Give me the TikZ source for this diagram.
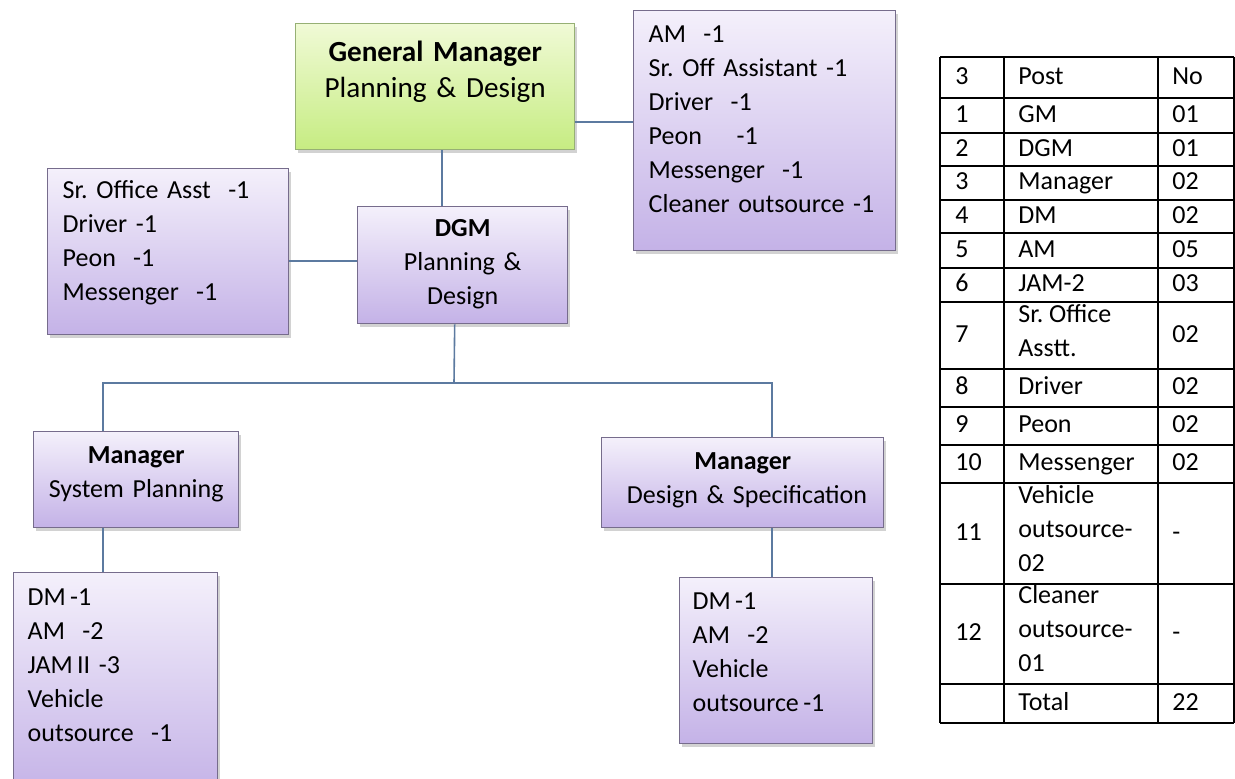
\documentclass[tikz,border=0pt]{standalone}
\usepackage{fontspec}
\setmainfont{Carlito}
\usetikzlibrary{shadows}

\definecolor{lilactop}{RGB}{244,240,251}
\definecolor{lilacbot}{RGB}{196,178,231}
\definecolor{lilacline}{RGB}{118,108,140}
\definecolor{limetop}{RGB}{240,250,214}
\definecolor{limebot}{RGB}{198,236,130}
\definecolor{limeline}{RGB}{150,176,116}
\definecolor{linkblue}{RGB}{92,122,160}

\tikzset{
  box/.style={draw=lilacline, line width=0.7pt, top color=lilactop, bottom color=lilacbot,
    drop shadow={shadow xshift=1.2pt, shadow yshift=-1.6pt, opacity=.35},
    anchor=north west, inner ysep=0pt, align=left,
    font=\fontsize{13}{17}\selectfont},
  gmbox/.style={box, draw=limeline, top color=limetop, bottom color=limebot,
    align=center, inner xsep=0pt, font=\fontsize{14.6}{18}\selectfont},
  link/.style={draw=linkblue, line width=0.8pt},
  cell/.style={anchor=west, inner sep=0pt, align=left,
    font=\fontsize{13}{17}\selectfont,
    execute at begin node=\strut, execute at end node=\strut},
  tabline/.style={line width=0.8pt},
}

\begin{document}
\frenchspacing
\begin{tikzpicture}[x=0.5pt,y=-0.5pt]
	\useasboundingbox (0,0) rectangle (1235,778);
	\fill[white] (0,0) rectangle (1235,778);

	% chart boxes
	\node[gmbox, text width=139.5pt, text height=19pt, text depth=44pt] (gm) at (295,23)
		{\textbf{General Manager}\\Planning \& Design};
	\node[box, inner xsep=7.5pt, text width=116pt, text height=16pt, text depth=104pt] (gmstaff) at (633,10)
		{AM\ \ -1\\Sr. Off Assistant\ -1\\Driver\ \ -1\\Peon\ \ \ \ -1\\Messenger\ \ -1\\Cleaner outsource -1};
	\node[box, inner xsep=7.5pt, text width=105.5pt, text height=15pt, text depth=68pt] (staff) at (47,168)
		{Sr. Office Asst\ \ -1\\Driver -1\\Peon\ \ -1\\Messenger\ \ -1};
	\node[box, align=center, inner xsep=0pt, text width=105pt, text height=15pt, text depth=43.5pt] (dgm) at (357,206)
		{\textbf{DGM}\\Planning \&\\Design};
	\node[box, align=center, inner xsep=0pt, text width=102.5pt, text height=16pt, text depth=32pt] (msp) at (33,431)
		{\textbf{Manager}\\System Planning};
	\node[box, align=center, inner xsep=0pt, text width=141pt, text height=16pt, text depth=29pt] (mds) at (601,437)
		{\textbf{Manager}\\\ Design \& Specification};
	\node[box, inner xsep=7pt, text width=88pt, text height=16.5pt, text depth=95pt] (spteam) at (13,572)
		{DM\,-1\\AM\ \ -2\\JAM\,II\ -3\\Vehicle\\outsource\ \ -1};
	\node[box, inner xsep=6.5pt, text width=83.5pt, text height=16pt, text depth=67pt] (dsteam) at (679,577)
		{DM\,-1\\AM\ \ -2\\Vehicle\\outsource\,-1};

	% connectors
	\coordinate (bus) at (454,383);
	\draw[link] ([xshift=3.25pt]gm.south) -- ([xshift=3.25pt]gm.south |- dgm.north);
	\draw[link] ([yshift=-17.5pt]gm.east) -- ([yshift=-17.5pt]gm.east -| gmstaff.west);
	\draw[link] ([yshift=-4.5pt]staff.east) -- ([yshift=-4.5pt]staff.east -| dgm.west);
	\draw[link] ([xshift=-4pt]dgm.south) -- (bus);
	\draw[link] ([xshift=-16.75pt]msp.north) |- (bus);
	\draw[link] ([xshift=14.5pt]mds.north) |- (bus);
	\draw[link] ([xshift=-16.75pt]msp.south) -- ([xshift=-16.75pt]msp.south |- spteam.north);
	\draw[link] ([xshift=14.5pt]mds.south) -- ([xshift=14.5pt]mds.south |- dsteam.north);

	% staff table
	\draw[tabline] (940,57) -- (1234,57);
	\foreach \x in {940,1004,1158,1234}
		\draw[tabline] (\x,57) -- (\x,723);
	\foreach \ya/\yb/\sno/\post/\nos [count=\i] in {
		57/98/3/Post/No, 98/133/1/GM/01, 133/166/2/DGM/01, 166/200/3/Manager/02,
		200/233/4/DM/02, 233/268/5/AM/05, 268/302/6/JAM-2/03,
		302/369/7/{Sr. Office\\Asstt.}/02, 369/407/8/Driver/02, 407/445/9/Peon/02,
		445/483/10/Messenger/02, 483/584/11/{Vehicle\\outsource-\\02}/-,
		584/684/12/{Cleaner\\outsource-\\01}/-, 684/723//Total/22}{
		\node[cell] (no\i) at (955,{(\ya+\yb)/2}) {\sno};
		\node[cell] (post\i) at (1018,{(\ya+\yb)/2}) {\post};
		\node[cell] (nos\i) at (1172,{(\ya+\yb)/2}) {\nos};
		\draw[tabline] (940,\yb) -- (1234,\yb);
	}
	\draw[line width=1.3pt] (940,98) -- (1234,98);
	\draw[line width=1.3pt] (940,684) -- (1234,684);
\end{tikzpicture}
\end{document}
